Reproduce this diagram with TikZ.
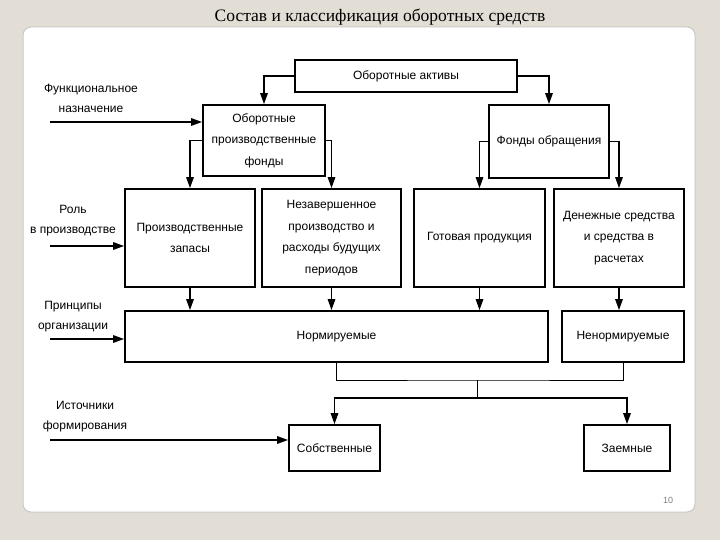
\documentclass[tikz,border=0pt]{standalone}
\usepackage{fontspec}
\setmainfont{Liberation Serif}
\setsansfont{Liberation Sans}
\usetikzlibrary{arrows.meta,positioning,calc}

\definecolor{slidebg}{RGB}{226,222,214}
\definecolor{panelline}{RGB}{200,200,196}

\tikzset{
  box/.style={draw, line width=1.8pt, align=center, inner sep=2pt,
    font=\sffamily\fontsize{12}{21.5}\selectfont},
  lab/.style={align=center, inner sep=0pt, font=\sffamily\fontsize{12}{20}\selectfont},
  conn/.style={line width=1.5pt},
  arr/.style={conn, -{Triangle[length=11pt,width=7.5pt]}}
}

\begin{document}
\begin{tikzpicture}[x=1pt,y=-1pt]

% slide background
\fill[slidebg] (0,0) rectangle (720,540);
\useasboundingbox (0,0) rectangle (720,540);
\fill[white, draw=panelline, line width=1pt, rounded corners=8pt] (23,27) rectangle (695,512);

% title
\node (title) at (380,17) {\fontsize{17.5}{19}\selectfont Состав и классификация оборотных средств};

% top level
\node[box, minimum width=222pt, minimum height=32pt] (aktivy) at (406,76) {Оборотные активы};

% second level
\node[box, minimum width=122pt, minimum height=71pt] (opf) at (264,140.5) {Оборотные\\производственные\\фонды};
\node[box, minimum width=120pt, minimum height=73pt] (fo) at (549,141.5) {Фонды обращения};

% third level
\node[box, minimum width=130pt, minimum height=98pt] (pz) at (190,238) {Производственные\\запасы};
\node[box, minimum width=139pt, minimum height=98pt] (np) at (331.5,238) {Незавершенное\\производство и\\расходы будущих\\периодов};
\node[box, minimum width=131pt, minimum height=98pt] (gp) at (479.5,238) {Готовая продукция};
\node[box, minimum width=130pt, minimum height=98pt] (ds) at (619,238) {Денежные средства\\и средства в\\расчетах};

% fourth level
\node[box, minimum width=423pt, minimum height=51pt] (norm) at (336.5,336.5) {Нормируемые};
\node[box, minimum width=122pt, minimum height=51pt] (nenorm) at (623,336.5) {Ненормируемые};

% fifth level
\node[box, minimum width=91pt, minimum height=46pt] (sobst) at (334.5,448) {Собственные};
\node[box, minimum width=86pt, minimum height=46pt] (zaem) at (627,448) {Заемные};

% criteria on the left
\node[lab] (funk) at (91,98) {Функциональное\\назначение};
\node[lab] (rol) at (73,221) {Роль\\в производстве};
\node[lab] (princ) at (73,317) {Принципы\\организации};
\node[lab] (ist) at (85,417) {Источники\\формирования};

\coordinate (f1) at (50,122);
\coordinate (f2) at (50,246);
\coordinate (f3) at (50,339);
\coordinate (f4) at (50,440);
\draw[arr] (f1) -- (f1 -| opf.west);
\draw[arr] (f2) -- (f2 -| pz.west);
\draw[arr] (f3) -- (f3 -| norm.west);
\draw[arr] (f4) -- (f4 -| sobst.west);

% tree connectors
\draw[arr] (aktivy.west) -| (opf.north);
\draw[arr] (aktivy.east) -| (fo.north);
\draw[arr] (opf.west) -| (pz.north);
\draw[arr] (opf.east) -| (np.north);
\draw[arr] (fo.west) -| (gp.north);
\draw[arr] (fo.east) -| (ds.north);

\draw[arr] (pz.south) -- (pz.south |- norm.north);
\draw[arr] (np.south) -- (np.south |- norm.north);
\draw[arr] (gp.south) -- (gp.south |- norm.north);
\draw[arr] (ds.south) -- (ds.south |- nenorm.north);

% sources bus
\coordinate (split) at (477,380);
\coordinate (join) at (477,398);
\draw[line width=1pt] (norm.south) |- (split) -| (nenorm.south);
\draw[line width=1pt] (split) -- (join);
\draw[arr] (join) -| (sobst.north);
\draw[arr] (join) -| (zaem.north);

% page number
\node[text=gray, font=\sffamily\fontsize{9}{10}\selectfont] (page) at (668,500) {10};

\end{tikzpicture}
\end{document}
